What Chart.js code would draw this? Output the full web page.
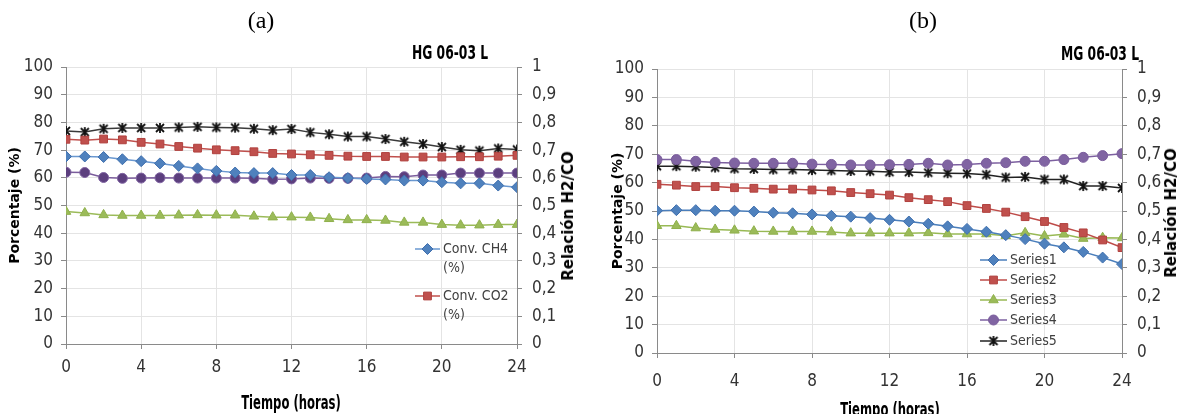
<!DOCTYPE html>
<html>
<head>
<meta charset="utf-8">
<script src="https://cdn.jsdelivr.net/npm/chart.js@4.4.0/dist/chart.umd.min.js"></script>
<style>
body{margin:0;background:#fff;width:1180px;height:414px;overflow:hidden;position:relative}
.box{position:absolute;top:0;width:590px;height:414px}
.lbl{position:absolute;white-space:nowrap;color:#000;transform:translate(-50%,-50%)}
.panel{font-family:"Liberation Serif",serif;font-size:24px}
.tag{font-family:"Liberation Sans Narrow","DejaVu Sans Condensed",sans-serif;font-weight:bold;font-size:19px;transform:translate(-50%,-50%) scaleX(0.72)}
.xt{font-family:"Liberation Sans Narrow","DejaVu Sans Condensed",sans-serif;font-weight:bold;font-size:19px;transform:translate(-50%,-50%) scaleX(0.68)}
.rt{font-family:"DejaVu Sans",sans-serif;font-weight:bold;font-size:15px;transform:translate(-50%,-50%) rotate(-90deg)}
</style>
</head>
<body>
<div class="box" style="left:0"><canvas id="chartA" width="590" height="414"></canvas></div>
<div class="box" style="left:590px"><canvas id="chartB" width="590" height="414"></canvas></div>
<div class="lbl panel" style="left:261px;top:20px">(a)</div>
<div class="lbl tag" style="left:450px;top:52px">HG 06-03 L</div>
<div class="lbl rt" style="left:568px;top:216px">Relación H2/CO</div>
<div class="lbl xt" style="left:291px;top:402px">Tiempo (horas)</div>
<div class="lbl panel" style="left:923px;top:20px">(b)</div>
<div class="lbl tag" style="left:1100px;top:53px">MG 06-03 L</div>
<div class="lbl rt" style="left:1171px;top:213px">Relación H2/CO</div>
<div class="lbl xt" style="left:890px;top:409px">Tiempo (horas)</div>
<script>
// hours of run
var hours = [0,1,2,3,4,5,6,7,8,9,10,11,12,13,14,15,16,17,18,19,20,21,22,23,24];

// (a) HG 06-03 L
var convCH4A = [67.7,67.7,67.5,66.7,66.0,65.2,64.3,63.4,62.5,61.9,61.7,61.7,61.0,61.0,60.2,59.9,59.6,59.4,59.0,59.0,58.4,58.0,58.0,57.2,56.6];
var convCO2A = [73.9,73.6,74.0,73.7,72.8,72.2,71.3,70.7,70.1,69.8,69.4,68.8,68.6,68.3,68.1,67.8,67.7,67.7,67.5,67.5,67.5,67.6,67.6,67.8,68.1];
var greenA   = [47.8,47.3,46.6,46.4,46.4,46.4,46.5,46.6,46.5,46.5,46.1,45.8,45.8,45.7,45.2,44.8,44.8,44.6,43.9,43.9,43.1,42.9,42.9,43.1,43.1];
var purpleA  = [62.0,61.9,60.1,59.8,59.9,60.0,59.9,59.9,59.9,59.9,59.8,59.5,59.6,59.9,59.8,59.8,59.9,60.5,60.4,61.0,61.0,61.7,61.7,61.7,61.7];
var ratioA   = [0.769,0.765,0.777,0.780,0.780,0.780,0.782,0.784,0.782,0.781,0.777,0.772,0.776,0.764,0.757,0.749,0.749,0.740,0.730,0.722,0.711,0.701,0.698,0.706,0.702];

// (b) MG 06-03 L
var series1B = [50.1,50.3,50.3,50.1,50.1,49.8,49.4,49.2,48.8,48.3,48.0,47.5,46.9,46.3,45.5,44.6,43.7,42.7,41.5,40.1,38.5,37.2,35.6,33.6,31.3];
var series2B = [59.4,59.1,58.6,58.6,58.2,58.0,57.7,57.7,57.4,57.1,56.5,56.1,55.6,54.7,54.0,53.3,51.9,50.9,49.6,48.0,46.3,44.2,42.3,39.8,37.1];
var series3B = [44.8,44.8,44.0,43.5,43.2,42.9,42.8,42.8,42.8,42.6,42.2,42.2,42.2,42.2,42.3,41.9,41.9,41.9,41.3,42.3,41.2,41.8,40.3,40.6,40.5];
var series4B = [68.1,68.1,67.5,67.1,66.9,66.8,66.8,66.8,66.5,66.4,66.2,66.2,66.3,66.4,66.8,66.2,66.4,66.8,67.0,67.5,67.5,68.1,68.9,69.5,70.2];
var series5B = [0.658,0.658,0.656,0.653,0.649,0.648,0.646,0.646,0.644,0.643,0.641,0.640,0.637,0.637,0.635,0.633,0.632,0.628,0.618,0.620,0.611,0.611,0.588,0.588,0.581];

var pctTicks = [0,10,20,30,40,50,60,70,80,90,100];

var NARROW = '"Liberation Sans Narrow","DejaVu Sans Condensed",sans-serif';
var GRID = '#e4e4e4';
var AXIS = '#8a8a8a';

function pts(vals){
	return hours.map(function(h,i){ return {x:h, y:vals[i]}; });
}

// excel style star marker: an X with a vertical bar
function starMark(color){
	var c = document.createElement('canvas');
	c.width = 12; c.height = 12;
	var g = c.getContext('2d');
	g.strokeStyle = color; g.lineWidth = 1.8;
	g.beginPath();
	g.moveTo(2,2); g.lineTo(10,10);
	g.moveTo(10,2); g.lineTo(2,10);
	g.moveTo(6,1); g.lineTo(6,11);
	g.stroke();
	return c;
}

function line(label, vals, axis, style, fill, stroke, lineColor, r){
	return {
		label: label, data: pts(vals), yAxisID: axis,
		borderColor: lineColor, borderWidth: 1.5, tension: 0, fill: false,
		pointStyle: style, pointRadius: r, pointBackgroundColor: fill,
		pointBorderColor: stroke, pointBorderWidth: 1
	};
}

// legend drawn at a fixed spot inside the plot, like the excel one
var boxLegend = {
	id: 'boxLegend',
	afterDraw: function(chart, args, opts){
		var ctx = chart.ctx;
		ctx.save();
		for(var k=0;k<opts.items.length;k++){
			var it = opts.items[k];
			var ds = chart.data.datasets[it.index];
			ctx.strokeStyle = ds.borderColor; ctx.lineWidth = 1.5;
			ctx.beginPath(); ctx.moveTo(opts.x, it.y); ctx.lineTo(opts.x+opts.len, it.y); ctx.stroke();
			ctx.fillStyle = ds.pointBackgroundColor; ctx.strokeStyle = ds.pointBorderColor; ctx.lineWidth = 1;
			Chart.helpers.drawPoint(ctx, {pointStyle: ds.pointStyle, radius: ds.pointRadius, borderWidth: 1, rotation: 0}, opts.x+opts.len/2, it.y);
			ctx.fillStyle = '#404040'; ctx.font = opts.font; ctx.textBaseline = 'middle'; ctx.textAlign = 'left';
			var parts = opts.wrap ? ds.label.split(' (') : [ds.label];
			for(var j=0;j<parts.length;j++){
				var t = j>0 ? '('+parts[j] : parts[j];
				ctx.fillText(t, opts.x+opts.len+3, it.y+j*opts.gap);
			}
		}
		ctx.restore();
	}
};

function buildChart(id, sets, cfg){
	return new Chart(document.getElementById(id), {
		type: 'line',
		data: { datasets: sets },
		options: {
			responsive: false, animation: false,
			layout: { padding: { top: cfg.top, left: 0, right: 0, bottom: 0 } },
			plugins: { legend: {display:false}, tooltip: {enabled:false}, boxLegend: cfg.legend },
			scales: {
				x: {
					type: 'linear', min: 0, max: 24,
					ticks: { stepSize: 4, padding: cfg.xpad, color: '#333', font: {family: NARROW, size: 17} },
					grid: { color: GRID, tickColor: AXIS, tickLength: 5 },
					border: { color: AXIS },
					afterFit: function(s){ s.height = cfg.xh; }
				},
				y: {
					position: 'left', min: 0, max: 100,
					afterBuildTicks: function(s){ s.ticks = pctTicks.map(function(v){ return {value:v}; }); },
					ticks: { padding: 8, color: '#333', font: {family: NARROW, size: 17} },
					grid: { color: GRID, tickColor: AXIS, tickLength: 5 },
					border: { color: AXIS },
					title: { display: true, text: 'Porcentaje (%)', color: '#000', padding: {top: cfg.ytpad, bottom: 0}, font: {family: '"DejaVu Sans",sans-serif', size: 14, weight: 'bold'} },
					afterFit: function(s){ s.width = cfg.lw; }
				},
				y1: {
					position: 'right', min: 0, max: 1,
					afterBuildTicks: function(s){ s.ticks = pctTicks.map(function(v){ return {value:v/100}; }); },
					ticks: { padding: 10, color: '#333', font: {family: NARROW, size: 17},
						callback: function(v){ return String(Math.round(v*10)/10).replace('.', ','); } },
					grid: { drawOnChartArea: false, color: GRID, tickColor: AXIS, tickLength: 5 },
					border: { color: AXIS },
					afterFit: function(s){ s.width = cfg.rw; }
				}
			}
		},
		plugins: [boxLegend]
	});
}

var setsA = [
	line('Conv. CH4 (%)', convCH4A, 'y', 'rectRot', '#4f81bd', '#3f6fae', '#6a98d0', 5.5),
	line('Conv. CO2 (%)', convCO2A, 'y', 'rect', '#c0504d', '#b0413e', '#c0504d', 5.5),
	line('Series3', greenA, 'y', 'triangle', '#9bbb59', '#8fb04c', '#9bbb59', 5.5),
	line('Series4', purpleA, 'y', 'circle', '#5c3f7e', '#8064a2', '#7a5c9c', 5),
	line('Series5', ratioA, 'y1', starMark('#111'), '#111', '#111', '#3a3a3a', 6)
];

var setsB = [
	line('Series1', series1B, 'y', 'rectRot', '#4f81bd', '#3f6fae', '#4a7ebb', 5.5),
	line('Series2', series2B, 'y', 'rect', '#c0504d', '#b0413e', '#be4b48', 5.5),
	line('Series3', series3B, 'y', 'triangle', '#9bbb59', '#8fb04c', '#98b954', 5.5),
	line('Series4', series4B, 'y', 'circle', '#8064a2', '#7a5c9c', '#7d60a0', 5),
	line('Series5', series5B, 'y1', starMark('#111'), '#111', '#111', '#222', 6)
];

buildChart('chartA', setsA, {
	top: 67, lw: 66, rw: 73, xh: 70, xpad: 8, ytpad: 7,
	legend: { x: 415, len: 25, gap: 19, wrap: true, font: '14px ' + NARROW,
		items: [{index:0, y:249}, {index:1, y:296}] }
});

buildChart('chartB', setsB, {
	top: 69, lw: 67, rw: 58, xh: 61, xpad: 13, ytpad: 20,
	legend: { x: 390, len: 27, gap: 0, wrap: false, font: '14px ' + NARROW,
		items: [{index:0, y:260}, {index:1, y:280}, {index:2, y:300}, {index:3, y:320}, {index:4, y:341}] }
});
</script>
</body>
</html>
